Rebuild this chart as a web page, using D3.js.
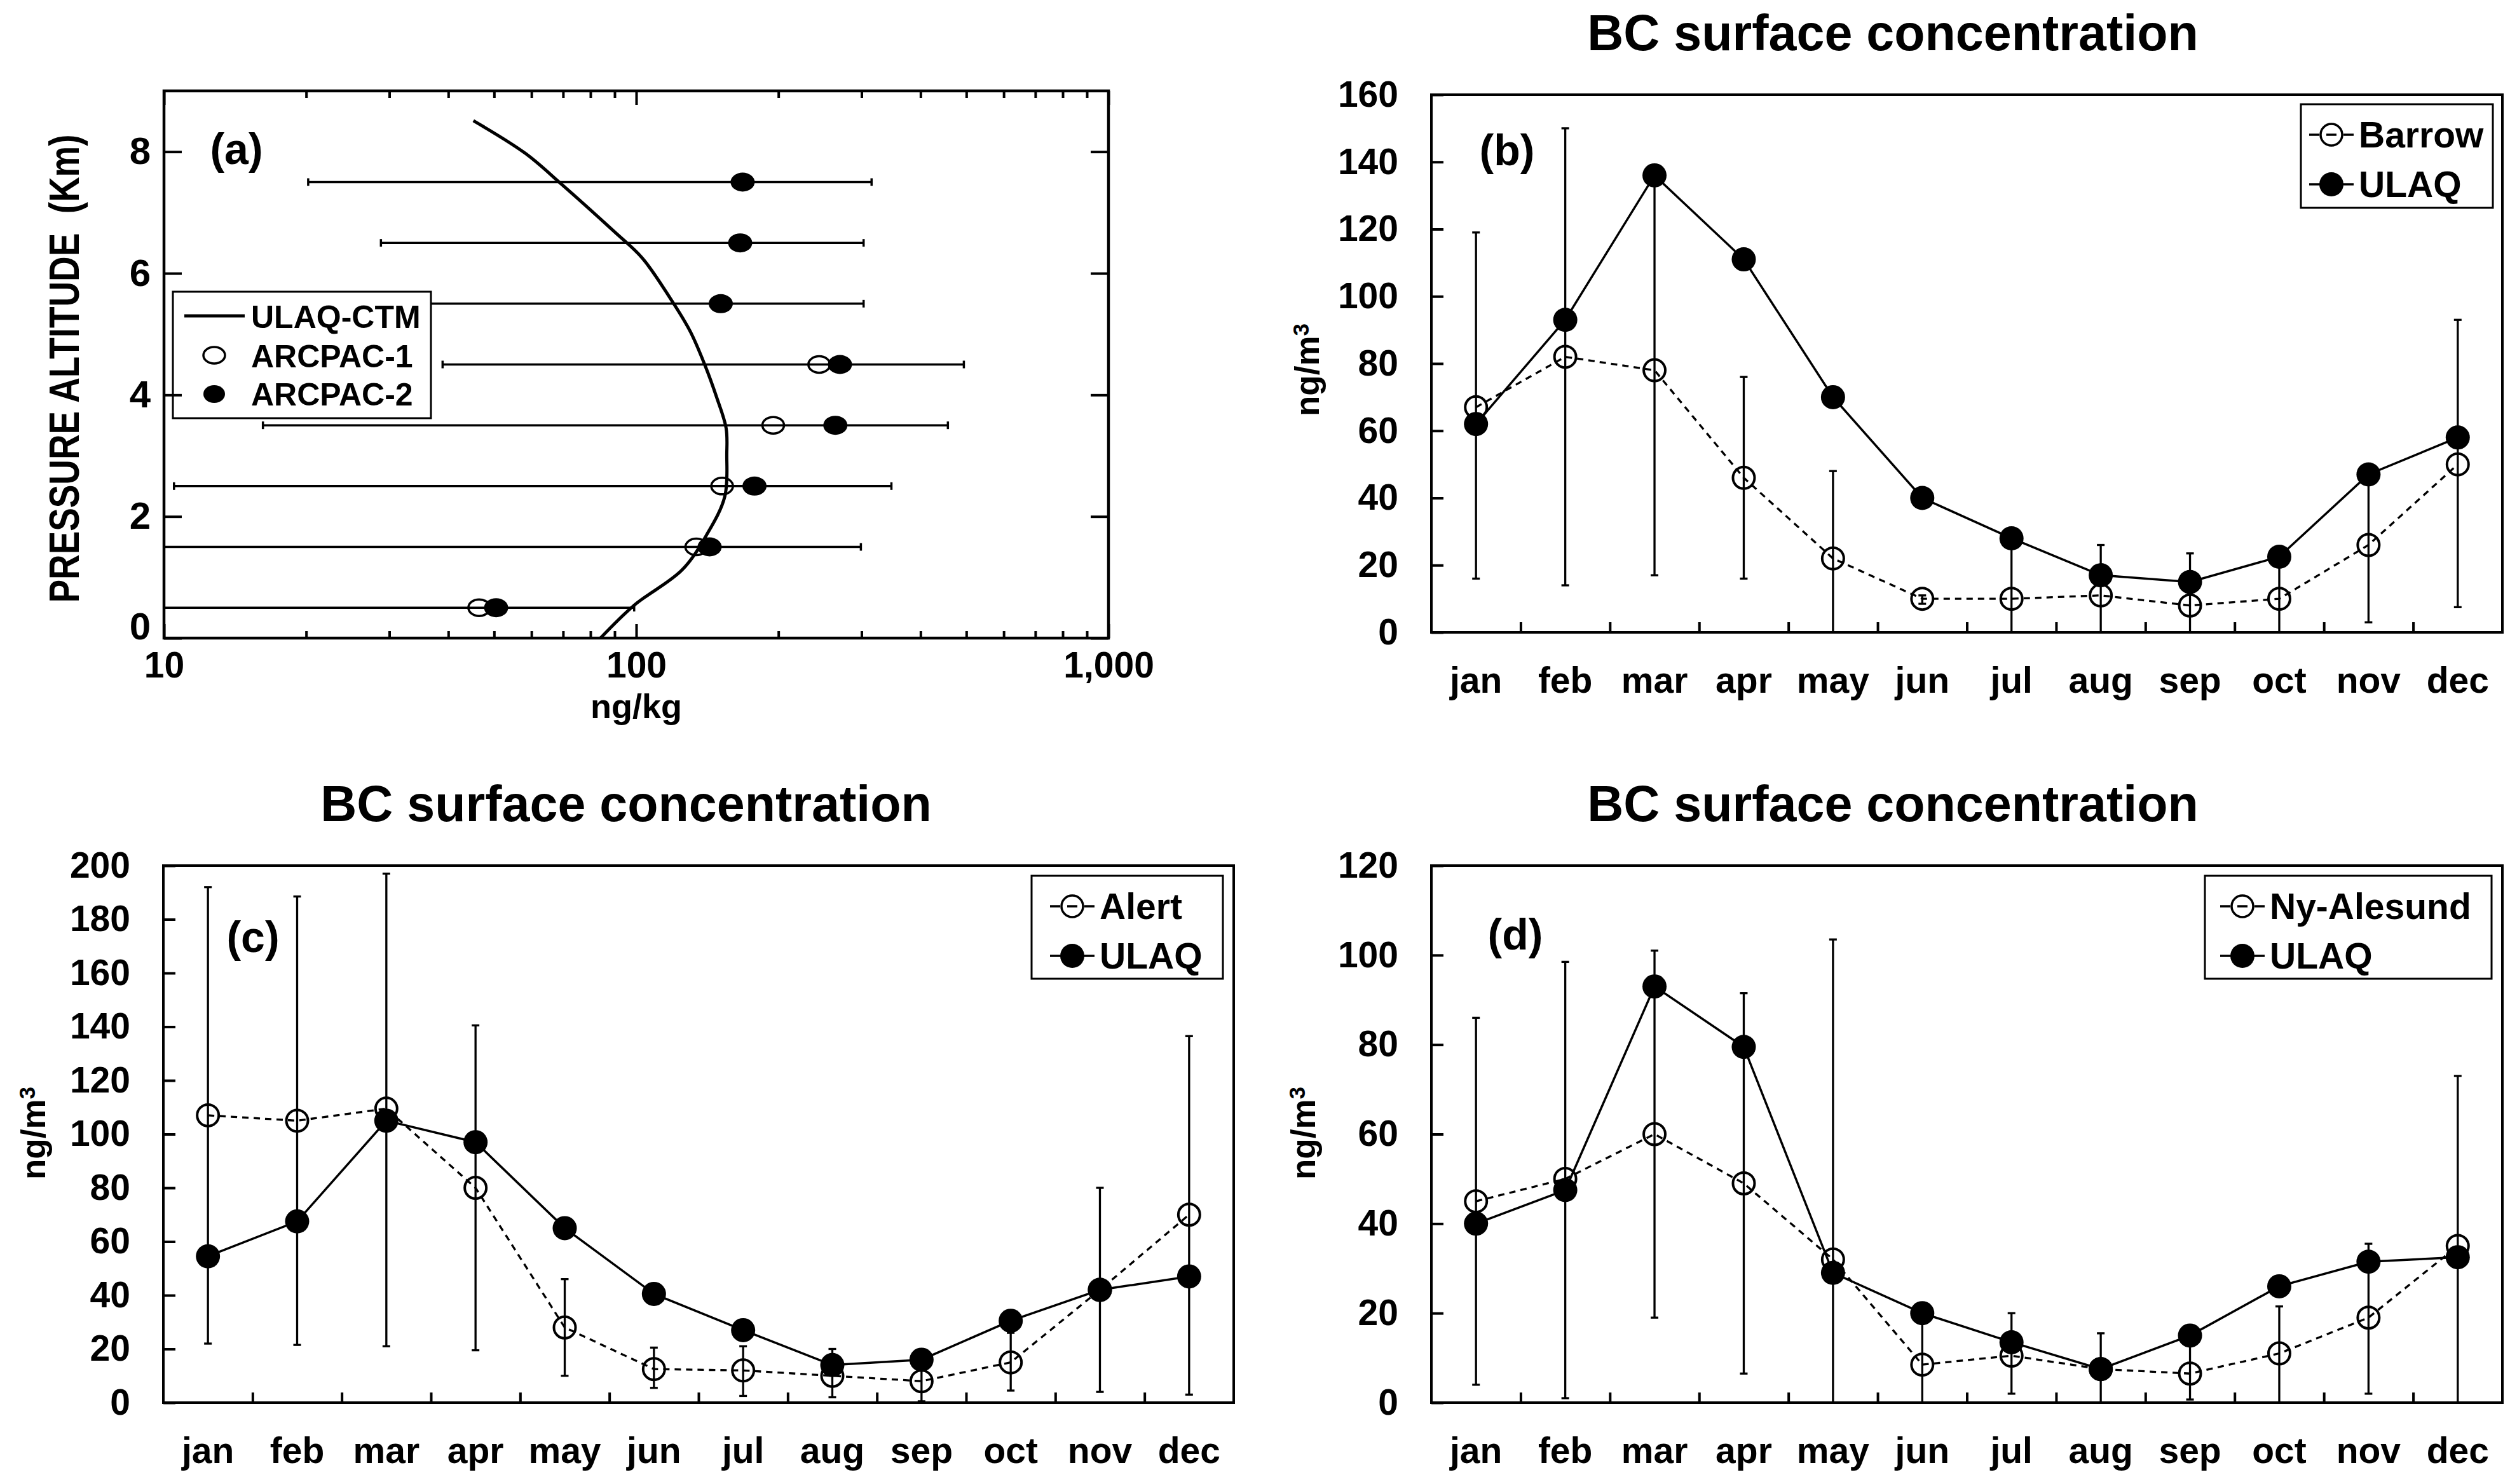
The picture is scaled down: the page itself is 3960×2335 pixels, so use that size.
<!DOCTYPE html>
<html>
<head>
<meta charset="utf-8">
<script src="https://cdn.jsdelivr.net/npm/d3@7"></script>
<style>
  body { margin: 0; background: #fff; }
  svg { display: block; }
  text { font-family: 'Liberation Sans', Arial, sans-serif; font-weight: bold; fill: #000; }
</style>
</head>
<body>
<svg id="chart" width="3960" height="2335"></svg>
<script>
// ---- panel (a): vertical BC profile ----
const ALT_LEVELS = [7.5, 6.5, 5.5, 4.5, 3.5, 2.5, 1.5, 0.5];
const ARCPAC2 = [168, 166, 151, 270, 264, 178, 143, 50.5];
const ARCPAC1 = [null, null, null, 244, 195, 152, 134, 46.5];
const ARCPAC_LO = [20.2, 28.8, 12, 38.9, 16.2, 10.5, 10, 10];
const ARCPAC_HI = [315, 303, 303, 494, 457, 347, 299, 99];
const MODEL_ALT = [0, 0.54, 1.12, 1.70, 2.33, 3.03, 3.45, 3.96, 4.50, 5.05, 5.59, 6.25, 6.68, 7.46, 7.97, 8.51];
const MODEL_BC = [84, 99, 125, 141, 154, 155.5, 155, 148, 139.6, 130, 118, 103, 90, 69.6, 58.3, 45.2];
const A_YTICKS = [0, 2, 4, 6, 8];
const A_XTICKS = [10, 100, 1000];
const A_XMINOR = [20, 30, 40, 50, 60, 70, 80, 90, 200, 300, 400, 500, 600, 700, 800, 900];

// ---- panels (b)-(d): monthly surface BC ----
const MONTHS = ['jan', 'feb', 'mar', 'apr', 'may', 'jun', 'jul', 'aug', 'sep', 'oct', 'nov', 'dec'];

const BARROW_OBS = [67, 82, 78, 46, 22, 10, 10, 11, 8, 10, 26, 50];
const BARROW_ULAQ = [62, 93, 136, 111, 70, 40, 28, 17, 15, 22.5, 47, 58];
const BARROW_HI = [119, 150, 137, 76, 48, 11, 26, 26, 23.5, 21, 44, 93];
const BARROW_LO = [16, 14, 17, 16, 0, 8.5, 0, 0, 0, 0, 3, 7.5];

const ALERT_OBS = [107, 105, 109.5, 80, 28, 12.5, 12, 10, 8, 15, 42, 70];
const ALERT_ULAQ = [54.5, 67.5, 105, 97, 65, 40.5, 27, 14, 16, 30.5, 42, 47];
const ALERT_HI = [192, 188.5, 197, 140.5, 46, 20.5, 21, 20, 14, 26, 80, 136.5];
const ALERT_LO = [22, 21.5, 21, 19.5, 10, 5.5, 2.5, 2, 0.5, 4.5, 4, 3];

const NYA_OBS = [45, 50, 60, 49, 32, 8.5, 10.5, 7.5, 6.5, 11, 19, 35];
const NYA_ULAQ = [40, 47.5, 93, 79.5, 29, 20, 13.5, 7.5, 15, 26, 31.5, 32.5];
const NYA_HI = [86, 98.5, 101, 91.5, 103.5, 18, 20, 15.5, 13, 21.5, 35.5, 73];
const NYA_LO = [4, 1, 19, 6.5, 0, 0, 2, 0, 0.7, 0, 2, 0];

const svg = d3.select('#chart');
svg.append('rect').attr('width', 3960).attr('height', 2335).attr('fill', '#fff');

function styleAxis(sel, fontSize, sw) {
    sel.select('.domain').remove();
    sel.selectAll('.tick line').attr('stroke', '#000').attr('stroke-width', sw);
    sel.selectAll('.tick text').style('font-size', fontSize + 'px').attr('fill', '#000');
}

// =============== panel (a) ===============
function drawProfile() {
    const L = 258, R = 1744, T = 143, B = 1004;
    const g = svg.append('g');
    const x = d3.scaleLog().domain([10, 1000]).range([L, R]);
    const y = d3.scaleLinear().domain([0, 9]).range([B, T]);

    // horizontal error bars
    const bars = g.append('g').attr('stroke', '#000').attr('stroke-width', 3.5);
    ALT_LEVELS.forEach((a, i) => {
        const yy = y(a);
        bars.append('line').attr('x1', x(ARCPAC_LO[i])).attr('x2', x(ARCPAC_HI[i])).attr('y1', yy).attr('y2', yy);
        [ARCPAC_LO[i], ARCPAC_HI[i]].forEach(v => {
            bars.append('line').attr('x1', x(v)).attr('x2', x(v)).attr('y1', yy - 6).attr('y2', yy + 6);
        });
    });

    // model profile
    const line = d3.line().x(d => x(d[0])).y(d => y(d[1])).curve(d3.curveCatmullRom);
    g.append('path')
        .datum(MODEL_BC.map((v, i) => [v, MODEL_ALT[i]]))
        .attr('d', line)
        .attr('fill', 'none').attr('stroke', '#000').attr('stroke-width', 5);

    // observations
    ALT_LEVELS.forEach((a, i) => {
        if (ARCPAC1[i] != null) {
            g.append('ellipse').attr('cx', x(ARCPAC1[i])).attr('cy', y(a)).attr('rx', 17).attr('ry', 13)
                .attr('fill', 'none').attr('stroke', '#000').attr('stroke-width', 3.5);
        }
        g.append('ellipse').attr('cx', x(ARCPAC2[i])).attr('cy', y(a)).attr('rx', 19).attr('ry', 15)
            .attr('fill', '#000');
    });

    // legend
    const lg = g.append('g');
    lg.append('rect').attr('x', 272).attr('y', 459).attr('width', 406).attr('height', 199)
        .attr('fill', '#fff').attr('stroke', '#000').attr('stroke-width', 3);
    lg.append('line').attr('x1', 290).attr('x2', 385).attr('y1', 497).attr('y2', 497)
        .attr('stroke', '#000').attr('stroke-width', 5);
    lg.append('ellipse').attr('cx', 337).attr('cy', 559).attr('rx', 17).attr('ry', 13)
        .attr('fill', 'none').attr('stroke', '#000').attr('stroke-width', 3.5);
    lg.append('ellipse').attr('cx', 337).attr('cy', 620).attr('rx', 17).attr('ry', 14).attr('fill', '#000');
    [['ULAQ-CTM', 516], ['ARCPAC-1', 578], ['ARCPAC-2', 638]].forEach(([t, yy]) => {
        lg.append('text').attr('x', 395).attr('y', yy).style('font-size', '50px').text(t);
    });

    // frame
    g.append('rect').attr('x', L).attr('y', T).attr('width', R - L).attr('height', B - T)
        .attr('fill', 'none').attr('stroke', '#000').attr('stroke-width', 4.5);

    // axes (inward ticks on all four sides)
    g.append('g').attr('transform', `translate(${L},0)`)
        .call(d3.axisLeft(y).tickValues(A_YTICKS).tickSize(-28).tickPadding(21))
        .call(s => styleAxis(s, 60, 4))
        .call(s => s.selectAll('.tick text').filter(d => d === 0).attr('dy', '0.02em'));
    g.append('g').attr('transform', `translate(${R},0)`)
        .call(d3.axisRight(y).tickValues(A_YTICKS).tickSize(-28).tickFormat(() => ''))
        .call(s => styleAxis(s, 60, 4));
    g.append('g').attr('transform', `translate(0,${B})`)
        .call(d3.axisBottom(x).tickValues(A_XTICKS).tickFormat(d3.format(',')).tickSize(-22).tickPadding(22))
        .call(s => styleAxis(s, 57, 4));
    g.append('g').attr('transform', `translate(0,${B})`)
        .call(d3.axisBottom(x).tickValues(A_XMINOR).tickFormat(() => '').tickSize(-11))
        .call(s => styleAxis(s, 57, 4));
    g.append('g').attr('transform', `translate(0,${T})`)
        .call(d3.axisTop(x).tickValues(A_XTICKS).tickFormat(() => '').tickSize(-22))
        .call(s => styleAxis(s, 57, 4));
    g.append('g').attr('transform', `translate(0,${T})`)
        .call(d3.axisTop(x).tickValues(A_XMINOR).tickFormat(() => '').tickSize(-11))
        .call(s => styleAxis(s, 57, 4));

    g.append('text').attr('x', 1001).attr('y', 1130).attr('text-anchor', 'middle')
        .style('font-size', '54px').text('ng/kg');
    // axis title: glyphs drawn a little taller than wide, as in the original
    g.append('text')
        .attr('transform', 'translate(100,580) rotate(-90) scale(1,1.2)')
        .attr('text-anchor', 'middle').attr('dy', '0.36em')
        .attr('textLength', 737).attr('lengthAdjust', 'spacingAndGlyphs')
        .style('font-size', '56px')
        .text('PRESSURE ALTITUDE\u00a0\u00a0(Km)');
    g.append('text').attr('x', 372).attr('y', 258).attr('text-anchor', 'middle')
        .style('font-size', '68px').text('(a)');
}

// =============== panels (b), (c), (d) ===============
const PANELS = [
    { tag: '(b)', name: 'Barrow', obs: BARROW_OBS, model: BARROW_ULAQ, lo: BARROW_LO, hi: BARROW_HI, yMax: 160,
      box: [2252, 3937, 149, 995], title: [2978, 79], ytitle: [2056, 582], tagPos: [2371, 260],
      legend: { x: 3620, y: 164, w: 302, h: 163, mx: 3668 } },
    { tag: '(c)', name: 'Alert', obs: ALERT_OBS, model: ALERT_ULAQ, lo: ALERT_LO, hi: ALERT_HI, yMax: 200,
      box: [257, 1941, 1362, 2207], title: [985, 1292], ytitle: [52, 1783], tagPos: [398, 1498],
      legend: { x: 1623, y: 1378, w: 301, h: 162, mx: 1687 } },
    { tag: '(d)', name: 'Ny-Alesund', obs: NYA_OBS, model: NYA_ULAQ, lo: NYA_LO, hi: NYA_HI, yMax: 120,
      box: [2252, 3937, 1362, 2207], title: [2978, 1292], ytitle: [2050, 1783], tagPos: [2384, 1494],
      legend: { x: 3469, y: 1378, w: 451, h: 162, mx: 3528 } }
];

function drawMonthly(p) {
    const [L, R, T, B] = p.box;
    const g = svg.append('g');
    const x = d3.scaleBand().domain(MONTHS).range([L, R]);
    const xi = d3.scaleLinear().domain([0, 12]).range([L, R]);
    const y = d3.scaleLinear().domain([0, p.yMax]).range([B, T]);
    const cx = i => x(MONTHS[i]) + x.bandwidth() / 2;

    // title
    g.append('text').attr('x', p.title[0]).attr('y', p.title[1]).attr('text-anchor', 'middle')
        .style('font-size', '79px').text('BC surface concentration');

    // error bars of observations
    const eb = g.append('g').attr('stroke', '#000').attr('stroke-width', 3.3);
    MONTHS.forEach((m, i) => {
        const xx = cx(i);
        eb.append('line').attr('x1', xx).attr('x2', xx).attr('y1', y(p.lo[i])).attr('y2', y(p.hi[i]));
        [p.lo[i], p.hi[i]].forEach(v => {
            eb.append('line').attr('x1', xx - 6).attr('x2', xx + 6).attr('y1', y(v)).attr('y2', y(v));
        });
    });

    const line = d3.line().x((d, i) => cx(i)).y(d => y(d));
    g.append('path').datum(p.obs).attr('d', line).attr('fill', 'none')
        .attr('stroke', '#000').attr('stroke-width', 3.3).attr('stroke-dasharray', '10,8');
    g.append('path').datum(p.model).attr('d', line).attr('fill', 'none')
        .attr('stroke', '#000').attr('stroke-width', 3.5);

    g.selectAll('.obs').data(p.obs).join('circle')
        .attr('cx', (d, i) => cx(i)).attr('cy', d => y(d)).attr('r', 17)
        .attr('fill', 'none').attr('stroke', '#000').attr('stroke-width', 4);
    g.selectAll('.mod').data(p.model).join('circle')
        .attr('cx', (d, i) => cx(i)).attr('cy', d => y(d)).attr('r', 19).attr('fill', '#000');

    // frame
    g.append('rect').attr('x', L).attr('y', T).attr('width', R - L).attr('height', B - T)
        .attr('fill', 'none').attr('stroke', '#000').attr('stroke-width', 4);

    // y axis
    g.append('g').attr('transform', `translate(${L},0)`)
        .call(d3.axisLeft(y).tickValues(d3.range(0, p.yMax + 1, 20)).tickSize(-19).tickPadding(52))
        .call(s => styleAxis(s, 57, 4));
    // category boundary ticks
    g.append('g').attr('transform', `translate(0,${B})`)
        .call(d3.axisBottom(xi).tickValues(d3.range(1, 12)).tickSize(-16).tickFormat(() => ''))
        .call(s => styleAxis(s, 57, 4));
    // month labels
    g.append('g').attr('transform', `translate(0,${B})`)
        .call(d3.axisBottom(x).tickSize(0).tickPadding(55))
        .call(s => styleAxis(s, 57, 0));

    // y title
    const yt = g.append('text')
        .attr('transform', `translate(${p.ytitle[0]},${p.ytitle[1]}) rotate(-90)`)
        .attr('text-anchor', 'middle').attr('dy', '0.35em').style('font-size', '53px');
    yt.append('tspan').text('ng/m');
    yt.append('tspan').attr('dy', '-0.45em').style('font-size', '35px').text('3');

    // panel tag
    g.append('text').attr('x', p.tagPos[0]).attr('y', p.tagPos[1]).attr('text-anchor', 'middle')
        .style('font-size', '68px').text(p.tag);

    // legend
    const lgd = p.legend;
    const lg = g.append('g');
    lg.append('rect').attr('x', lgd.x).attr('y', lgd.y).attr('width', lgd.w).attr('height', lgd.h)
        .attr('fill', '#fff').attr('stroke', '#000').attr('stroke-width', 3);
    const r1 = lgd.y + 48, r2 = lgd.y + 126;
    lg.append('line').attr('x1', lgd.mx - 35).attr('x2', lgd.mx + 35).attr('y1', r1).attr('y2', r1)
        .attr('stroke', '#000').attr('stroke-width', 3.3).attr('stroke-dasharray', '16,11,16,11,16');
    lg.append('circle').attr('cx', lgd.mx).attr('cy', r1).attr('r', 17)
        .attr('fill', 'none').attr('stroke', '#000').attr('stroke-width', 3.5);
    lg.append('line').attr('x1', lgd.mx - 35).attr('x2', lgd.mx + 35).attr('y1', r2).attr('y2', r2)
        .attr('stroke', '#000').attr('stroke-width', 3.5);
    lg.append('circle').attr('cx', lgd.mx).attr('cy', r2).attr('r', 19).attr('fill', '#000');
    lg.append('text').attr('x', lgd.mx + 43).attr('y', r1 + 20).style('font-size', '57px').text(p.name);
    lg.append('text').attr('x', lgd.mx + 43).attr('y', r2 + 20).style('font-size', '57px').text('ULAQ');
}

drawProfile();
PANELS.forEach(drawMonthly);
</script>
</body>
</html>
